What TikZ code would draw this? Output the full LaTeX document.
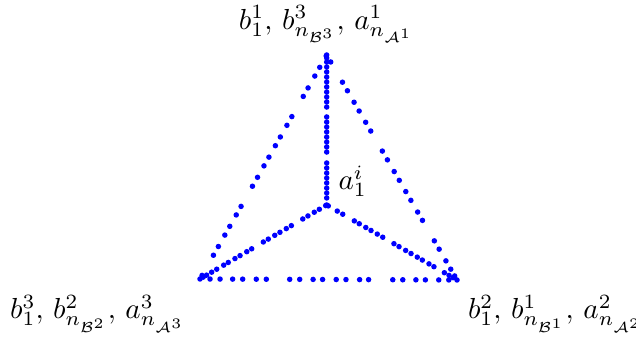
\documentclass[tikz,border=0pt]{standalone}
\usepackage{amsmath}
\usepackage{tikz}
\usetikzlibrary{calc,positioning}

\begin{document}
\begin{tikzpicture}[x=0.345pt,y=-0.345pt,
  mesh/.style={fill=blue},
  vlabel/.style={inner sep=1pt},
]
\useasboundingbox (0,0) rectangle (636,338);

% the corners of the triangle
\coordinate (t) at (326.7,55);
\coordinate (c) at (326.7,205);
\coordinate (l) at (200,279);
\coordinate (r) at (457,280);

% the outer left side
\foreach \s in {0.004,0.055,0.094,0.147,0.185,0.275,0.314,0.366,0.405,0.456,0.495,
  0.546,0.586,0.676,0.714,0.765,0.804,0.855,0.894,0.984,1}
\fill[mesh] ($(t)!\s!(l)$) circle (0.95pt);

% the outer right side
\foreach \s in {0.031,0.121,0.159,0.21,0.249,0.299,0.338,0.427,0.466,0.518,0.557,
  0.607,0.646,0.698,0.735,0.826,0.863,0.915,0.952,0.982,1}
\fill[mesh] ($(t)!\s!(r)$) circle (0.95pt);

% the bottom side
\foreach \s in {0.039,0.078,0.127,0.166,0.219,0.258,0.349,0.388,0.44,0.477,0.53,
  0.568,0.621,0.656,0.75,0.789,0.84,0.877,0.929,0.968}
\fill[mesh] ($(l)!\s!(r)$) circle (0.95pt);

% the inner spokes
\foreach \s in {0,0.02,0.047,0.08,0.113,0.147,0.18,0.213,0.247,0.28,0.313,0.347,
  0.413,0.447,0.48,0.513,0.547,0.58,0.613,0.647,0.72,0.753,0.787,0.82,0.853,
  0.887,0.92,0.953,1}
\fill[mesh] ($(t)!\s!(c)$) circle (0.95pt);
\foreach \s in {0.008,0.058,0.098,0.148,0.189,0.279,0.319,0.369,0.41,0.461,0.5,
  0.592,0.631,0.684,0.724,0.777,0.813,0.868,0.908,0.948,0.975}
\fill[mesh] ($(c)!\s!(l)$) circle (0.95pt);
\foreach \s in {0.012,0.081,0.123,0.212,0.25,0.3,0.34,0.388,0.43,0.516,0.555,
  0.606,0.647,0.695,0.734,0.785,0.823,0.903,0.939,0.97}
\fill[mesh] ($(c)!\s!(r)$) circle (0.95pt);

% the labels
\node[vlabel,above=3pt of t] (tlab) {$b^1_1,\, b^3_{n_{\mathcal{B}^3}},\, a^1_{n_{\mathcal{A}^1}}$};
\node[vlabel,below left=4.3pt and 3.8pt of l] (llab) {$b^3_1,\, b^2_{n_{\mathcal{B}^2}},\, a^3_{n_{\mathcal{A}^3}}$};
\node[vlabel,below right=4pt and 2.6pt of r] (rlab) {$b^2_1,\, b^1_{n_{\mathcal{B}^1}},\, a^2_{n_{\mathcal{A}^2}}$};
\node[vlabel,above right=1.6pt and 2.9pt of c] (clab) {$a^i_1$};
\end{tikzpicture}
\end{document}
